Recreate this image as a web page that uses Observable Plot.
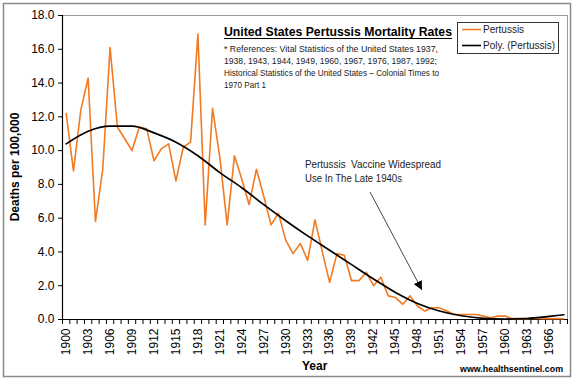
<!DOCTYPE html>
<html><head><meta charset="utf-8">
<script src="https://cdn.jsdelivr.net/npm/d3@7"></script>
<script src="https://cdn.jsdelivr.net/npm/@observablehq/plot@0.6"></script>
<style>
body{margin:0;background:#fff;}
#chart{width:577px;height:381px;}
</style></head><body><div id="chart"></div>
<script>
const years = [1900,1901,1902,1903,1904,1905,1906,1907,1908,1909,1910,1911,1912,1913,1914,1915,1916,1917,1918,1919,
  1920,1921,1922,1923,1924,1925,1926,1927,1928,1929,1930,1931,1932,1933,1934,1935,1936,1937,1938,1939,
  1940,1941,1942,1943,1944,1945,1946,1947,1948,1949,1950,1951,1952,1953,1954,1955,1956,1957,1958,1959,
  1960,1961,1962,1963,1964,1965,1966,1967,1968];
const pertussis = [12.2,8.8,12.4,14.3,5.8,8.9,16.1,11.4,10.7,10.0,11.4,11.3,9.4,10.1,10.4,8.2,10.2,10.5,16.9,5.6,
  12.5,9.6,5.6,9.7,8.3,6.8,8.9,7.3,5.6,6.3,4.7,3.9,4.5,3.5,5.9,4.0,2.2,3.9,3.8,2.3,
  2.3,2.8,2.0,2.5,1.4,1.3,0.9,1.4,0.8,0.5,0.7,0.7,0.5,0.3,0.3,0.3,0.3,0.2,0.1,0.2,
  0.2,0.05,0.05,0.05,0.07,0.05,0.05,0.05,0.04];
const trendYears = [1900,1903,1906,1909,1912,1915,1918,1921,1924,1927,1930,1933,1936,1939,1942,1945,1948,1951,1954,1957,1960,1963,1966,1968];
const trendValues = [10.4,11.15,11.45,11.45,11.05,10.5,9.7,8.7,7.8,6.8,5.85,4.95,4.1,3.25,2.4,1.6,0.95,0.5,0.22,0.07,0.03,0.06,0.18,0.28];
const xTickLabels = [1900,1903,1906,1909,1912,1915,1918,1921,1924,1927,1930,1933,1936,1939,1942,1945,1948,1951,1954,1957,1960,1963,1966];
const yTicks = [0,2,4,6,8,10,12,14,16,18];
const seriesNames = ["Pertussis", "Poly. (Pertussis)"];
const seriesColors = ["#f27a21", "#000000"];

const data = years.map((y, i) => ({year: y, value: pertussis[i]}));
const trend = trendYears.map((y, i) => ({year: y, value: trendValues[i]}));
const bounds = years.map(y => y - 0.5).concat([years[years.length - 1] + 0.5]);
const font = "'Liberation Sans', Arial, Helvetica, sans-serif";

const plot = Plot.plot({
  width: 577, height: 381,
  marginLeft: 62, marginRight: 10, marginTop: 15, marginBottom: 62,
  style: {fontFamily: font, fontSize: "12px", background: "white", color: "#000"},
  x: {domain: [bounds[0], bounds[bounds.length - 1]], axis: null},
  y: {domain: [0, 18], axis: null},
  marks: [
    Plot.ruleY([18], {stroke: "#9a9a9a", strokeWidth: 1}),
    Plot.ruleX([bounds[bounds.length - 1]], {stroke: "#9a9a9a", strokeWidth: 1}),
    Plot.axisY(yTicks, {tickFormat: d => d.toFixed(1), tickSize: 4, tickPadding: 4, label: null, fontSize: 12, stroke: "#000"}),
    Plot.axisX(bounds, {tickSize: 5, tickFormat: () => "", label: null, stroke: "#000"}),
    Plot.axisX(xTickLabels, {tickSize: 0, tickPadding: 9, tickRotate: -90, tickFormat: d => String(d), label: null, fontSize: 12}),
    Plot.ruleX([bounds[0]], {stroke: "#000", strokeWidth: 1.2}),
    Plot.ruleY([0], {stroke: "#000", strokeWidth: 1.2}),
    Plot.line(data, {x: "year", y: "value", stroke: seriesColors[0], strokeWidth: 1.6}),
    Plot.line(trend, {x: "year", y: "value", stroke: seriesColors[1], strokeWidth: 1.7, curve: "monotone-x"})
  ]
});
document.getElementById("chart").appendChild(plot);

const svg = d3.select(plot);
const g = svg.append("g").attr("font-family", font).attr("text-anchor", "start");
// outer chart border
g.append("rect").attr("x", 3.5).attr("y", 3.5).attr("width", 567).attr("height", 373)
  .attr("fill", "none").attr("stroke", "#8a8a8a").attr("stroke-width", 1.5);

// title
g.append("text").attr("x", 224).attr("y", 36).attr("font-size", 12).attr("font-weight", "bold")
  .attr("textLength", 228).attr("lengthAdjust", "spacingAndGlyphs")
  .text("United States Pertussis Mortality Rates");
g.append("line").attr("x1", 224).attr("x2", 452).attr("y1", 38.5).attr("y2", 38.5).attr("stroke", "#000").attr("stroke-width", 1.2);

const refs = [
  ["* References: Vital Statistics of the United States 1937,", 214],
  ["1938, 1943, 1944, 1949, 1960, 1967, 1976, 1987, 1992;", 213],
  ["Historical Statistics of the United States \u2013 Colonial Times to", 215],
  ["1970 Part 1", 42]
];
refs.forEach(([t, w], i) => {
  g.append("text").attr("x", 224).attr("y", 52 + i * 12).attr("font-size", 9.5).attr("fill", "#222")
    .attr("textLength", w).attr("lengthAdjust", "spacingAndGlyphs").text(t);
});

// legend
g.append("rect").attr("x", 457.5).attr("y", 22.5).attr("width", 101).attr("height", 31)
  .attr("fill", "white").attr("stroke", "#333").attr("stroke-width", 1);
seriesNames.forEach((name, i) => {
  const yy = 29.5 + i * 16;
  g.append("line").attr("x1", 462).attr("x2", 481).attr("y1", yy).attr("y2", yy)
    .attr("stroke", seriesColors[i]).attr("stroke-width", 1.6);
  g.append("text").attr("x", 483).attr("y", yy + 3.5).attr("font-size", 10).attr("fill", "#222")
    .text(name);
});

// annotation
g.append("text").attr("x", 305).attr("y", 168).attr("font-size", 10).attr("fill", "#222")
  .attr("textLength", 136).attr("lengthAdjust", "spacingAndGlyphs").text("Pertussis  Vaccine Widespread");
g.append("text").attr("x", 305).attr("y", 182).attr("font-size", 10).attr("fill", "#222")
  .attr("textLength", 97).attr("lengthAdjust", "spacingAndGlyphs").text("Use In The Late 1940s");
svg.append("defs").html('<marker id="ah" viewBox="0 0 10 10" refX="10" refY="5" markerWidth="9" markerHeight="9" markerUnits="userSpaceOnUse" orient="auto"><path d="M0,0L10,5L0,10z" fill="#000"/></marker>');
g.append("line").attr("x1", 370).attr("y1", 192).attr("x2", 422).attr("y2", 290)
  .attr("stroke", "#333").attr("stroke-width", 0.9).attr("marker-end", "url(#ah)");

// axis titles
g.append("text").attr("transform", "translate(19,167) rotate(-90)").attr("text-anchor", "middle")
  .attr("font-size", 12).attr("font-weight", "bold").text("Deaths per 100,000");
g.append("text").attr("x", 302).attr("y", 370).attr("font-size", 12).attr("font-weight", "bold").text("Year");
g.append("text").attr("x", 460).attr("y", 372).attr("font-size", 9).attr("font-weight", "bold")
  .attr("textLength", 103).attr("lengthAdjust", "spacingAndGlyphs").text("www.healthsentinel.com");
</script></body></html>
